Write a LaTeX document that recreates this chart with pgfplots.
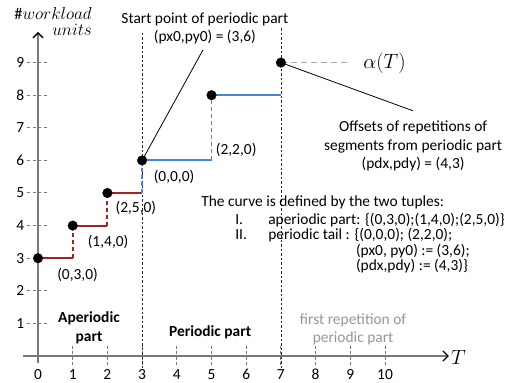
\documentclass[border=0pt]{standalone}
\usepackage{pgfplots}
\pgfplotsset{compat=1.18}
\usepackage{fontspec}
\setmainfont{Carlito}
\usetikzlibrary{arrows.meta}
\definecolor{stepred}{RGB}{165,35,30}
\definecolor{stepblue}{RGB}{70,132,225}
\definecolor{axgray}{RGB}{120,120,120}
\definecolor{txtgray}{RGB}{150,150,150}
\begin{document}
\begin{tikzpicture}[
  lbl/.style={font=\fontsize{15.5}{18.5}\selectfont},
  ln/.style={lbl, anchor=west, inner sep=0pt},
]
\begin{axis}[
  width=507bp, height=383bp, scale only axis,
  xmin=-1.0951, xmax=13.5159, ymin=-0.8282, ymax=10.9202,
  hide axis, clip=false,
]
% axes
\draw[axgray, line width=1.3bp, -{Straight Barb[length=5bp,width=10bp,color=black]}] (axis cs:-0.43,0) -- (axis cs:11.84,0);
\draw[axgray, line width=1.3bp, -{Straight Barb[length=5bp,width=10bp,color=black]}] (axis cs:0,-0.21) -- (axis cs:0,9.94);
% y ticks
\pgfplotsinvokeforeach{1,...,9}{
  \draw[axgray, line width=1bp, dash pattern=on 3bp off 2.5bp] (axis cs:-0.317,#1) -- (axis cs:0.288,#1);
  \node[lbl, anchor=east, inner sep=1pt] at (axis cs:-0.36,#1) {#1};
}
% x ticks
\pgfplotsinvokeforeach{1,...,10}{
  \draw[axgray, line width=1bp, dash pattern=on 3bp off 2.5bp] (axis cs:#1,0.307) -- (axis cs:#1,-0.368);
}
\pgfplotsinvokeforeach{0,...,10}{
  \node[lbl, inner sep=0pt] at (axis cs:#1,-0.56) {#1};
}
% period boundaries
\draw[black!85, line width=0.8bp, dash pattern=on 2.5bp off 2bp] (axis cs:3,-0.37) -- (axis cs:3,9.94);
\draw[black!85, line width=0.8bp, dash pattern=on 2.5bp off 2bp] (axis cs:7,-0.37) -- (axis cs:7,10.06);

% aperiodic part (red)
\addplot[stepred, line width=1.9bp] coordinates {(0,3) (1,3)};
\addplot[stepred, line width=1.9bp, dash pattern=on 4bp off 3bp] coordinates {(1,3) (1,4)};
\addplot[stepred, line width=1.9bp] coordinates {(1,4) (2,4)};
\addplot[stepred, line width=1.9bp, dash pattern=on 4bp off 3bp] coordinates {(2,4) (2,5)};
\addplot[stepred, line width=1.9bp] coordinates {(2,5) (3,5)};
% periodic part (blue)
\addplot[stepblue, line width=1.9bp, dash pattern=on 4bp off 3bp] coordinates {(3,5) (3,6)};
\addplot[stepblue, line width=1.9bp] coordinates {(3,6) (5,6)};
\addplot[stepblue, line width=1.9bp, dash pattern=on 4bp off 3bp] coordinates {(5,6) (5,8)};
\addplot[stepblue, line width=1.9bp] coordinates {(5,8) (7,8)};
% alpha(T) level
\addplot[gray!70, line width=1.5bp, dash pattern=on 6bp off 4bp] coordinates {(7,9) (9,9)};
% points
\addplot[only marks, mark=*, mark size=4.8pt, black] coordinates {(0,3) (1,4) (2,5) (3,6) (5,8) (7,9)};

% annotation leaders
\draw[black, line width=0.8bp] (axis cs:3,6) -- (axis cs:4.755,9.39);
\draw[black, line width=0.8bp] (axis cs:7,9) -- (axis cs:10.81,7.52);

% axis titles
\node[anchor=east, inner sep=0pt, font=\fontsize{16.5}{18}\selectfont] at (axis cs:1.556,10.51) {$\#workload$};
\node[anchor=east, inner sep=0pt, font=\fontsize{16.5}{18}\selectfont] at (axis cs:1.556,9.99) {$units$};
\node[anchor=west, inner sep=0pt, font=\fontsize{22}{24}\selectfont] at (axis cs:11.9,-0.03) {$T$};
\node[anchor=west, inner sep=0pt, font=\fontsize{22}{24}\selectfont] at (axis cs:9.37,8.99) {$\alpha(T)$};

% annotations
\node[lbl] at (axis cs:4.81,10.34) {Start point of periodic part};
\node[lbl] at (axis cs:4.81,9.79) {(px0,py0) = (3,6)};
\node[lbl] at (axis cs:10.81,7.02) {Offsets of repetitions of};
\node[lbl] at (axis cs:10.81,6.44) {segments from periodic part};
\node[lbl] at (axis cs:10.81,5.89) {(pdx,pdy) = (4,3)};

% point labels
\node[lbl] at (axis cs:1.14,2.48) {(0,3,0)};
\node[lbl] at (axis cs:2.02,3.50) {(1,4,0)};
\node[lbl] at (axis cs:2.82,4.54) {(2,5,0)};
\node[lbl] at (axis cs:3.92,5.49) {(0,0,0)};
\node[lbl] at (axis cs:5.71,6.32) {(2,2,0)};

% region labels
\node[lbl, font=\fontsize{15.5}{19}\selectfont\bfseries, align=center] at (axis cs:1.47,0.874) {Aperiodic\\part};
\node[lbl, font=\fontsize{15.5}{19}\selectfont\bfseries] at (axis cs:4.96,0.74) {Periodic part};
\node[txtgray, font=\fontsize{15.5}{18}\selectfont, align=center] at (axis cs:9.08,0.83) {first repetition of\\periodic part};

% definition block
\node[ln] at (axis cs:4.70,4.72) {The curve is defined by the two tuples:};
\node[ln] at (axis cs:5.68,4.17) {I.};
\node[ln] at (axis cs:6.63,4.17) {aperiodic part: \{(0,3,0);(1,4,0);(2,5,0)\}};
\node[ln] at (axis cs:5.68,3.71) {II.};
\node[ln] at (axis cs:6.63,3.71) {periodic tail : \{(0,0,0); (2,2,0);};
\node[ln] at (axis cs:9.16,3.22) {(px0, py0) := (3,6);};
\node[ln] at (axis cs:9.16,2.76) {(pdx,pdy) := (4,3)\}};
\end{axis}
\pgfresetboundingbox
\path (current axis.south west) rectangle (current axis.north east);
\end{tikzpicture}
\end{document}
